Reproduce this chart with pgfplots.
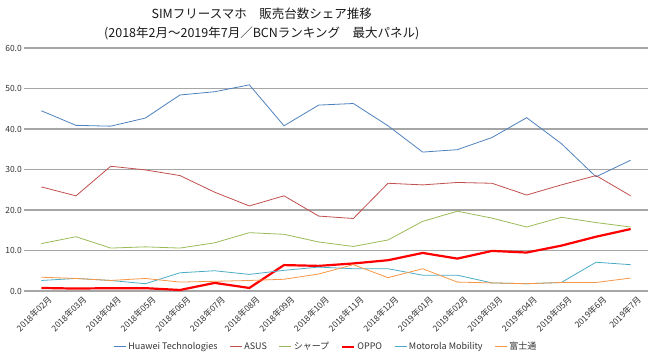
\documentclass[border=0pt]{standalone}
\usepackage{pgfplots}
\pgfplotsset{compat=1.18}
\usepackage{fontspec}
\setmainfont{Noto Sans CJK JP}
\definecolor{chuawei}{HTML}{4F81BD}
\definecolor{casus}{HTML}{C0504D}
\definecolor{csharp}{HTML}{9BBB59}
\definecolor{coppo}{HTML}{FF0000}
\definecolor{cmoto}{HTML}{4BACC6}
\definecolor{cfuji}{HTML}{F79646}
\definecolor{cgrid}{HTML}{A6A6A6}
\pgfplotstableread{
x huawei asus sharp oppo moto fuji
0 44.5 25.7 11.7 0.75 2.6 3.4
1 40.9 23.5 13.4 0.6 3.1 3.1
2 40.7 30.8 10.6 0.7 2.6 2.6
3 42.7 29.9 10.9 0.7 1.8 3.1
4 48.4 28.5 10.6 0.25 4.5 2.2
5 49.2 24.4 11.9 2.0 5.0 2.4
6 50.9 21.0 14.4 0.75 4.1 2.6
7 40.8 23.5 14.0 6.4 5.1 2.9
8 45.9 18.5 12.1 6.2 5.9 4.2
9 46.3 17.9 11.0 6.8 5.5 6.5
10 40.8 26.6 12.6 7.6 5.5 3.3
11 34.3 26.2 17.2 9.4 3.9 5.5
12 34.9 26.8 19.7 8.0 3.9 2.2
13 37.9 26.6 18.0 9.9 2.0 2.0
14 42.8 23.7 15.8 9.5 1.8 1.8
15 36.4 26.2 18.2 11.2 2.1 2.1
16 28.2 28.5 16.9 13.4 7.1 2.1
17 32.3 23.5 15.8 15.3 6.5 3.2
}\datatable
\begin{document}
\begin{tikzpicture}
\begin{axis}[
  scale only axis,
  width=624pt, height=243pt,
  xmin=-0.5, xmax=17.5,
  ymin=0, ymax=60,
  ytick={0,10,...,60},
  xtick={0,...,17},
  xticklabels={2018年02月,2018年03月,2018年04月,2018年05月,2018年06月,2018年07月,2018年08月,2018年09月,2018年10月,2018年11月,2018年12月,2019年01月,2019年02月,2019年03月,2019年04月,2019年05月,2019年6月,2019年7月},
  axis line style={draw=none},
  ymajorgrids,
  grid style={cgrid, line width=1.1pt},
  major tick length=0pt,
  yticklabel style={/pgf/number format/fixed, /pgf/number format/fixed zerofill, /pgf/number format/precision=1, /pgf/number format/assume math mode=true,
    font=\fontsize{8.5}{9}\selectfont, text=black!80, inner sep=1pt, xshift=-1pt},
  xticklabel style={font=\fontsize{8.5}{9}\selectfont, text=black!80, rotate=45, anchor=north east, inner sep=1pt, yshift=-6pt, xshift=2.5pt},
  legend columns=6,
  legend style={draw=none, fill=none, at={(rel axis cs:0.484,-0.23)}, anchor=center,
    font=\fontsize{9}{10}\selectfont, text=black!80,
    /tikz/every even column/.append style={column sep=10pt}},
  legend image code/.code={\draw[#1] (0pt,0pt) -- (12pt,0pt);},
  every axis plot/.append style={line width=0.8pt},
  clip=false,
]
\addplot[chuawei, mark=none] table[x=x,y=huawei] {\datatable};
\addlegendentry{Huawei Technologies}
\addplot[casus, mark=none] table[x=x,y=asus] {\datatable};
\addlegendentry{ASUS}
\addplot[csharp, mark=none] table[x=x,y=sharp] {\datatable};
\addlegendentry{シャープ}
\addplot[coppo, mark=none, line width=2.2pt] table[x=x,y=oppo] {\datatable};
\addlegendentry{OPPO}
\addplot[cmoto, mark=none] table[x=x,y=moto] {\datatable};
\addlegendentry{Motorola Mobility}
\addplot[cfuji, mark=none] table[x=x,y=fuji] {\datatable};
\addlegendentry{富士通}
\node[align=center, font=\fontsize{12.5}{19}\selectfont, text=black!90] at (rel axis cs:0.381,1.1) {SIMフリースマホ　販売台数シェア推移\\(2018年2月～2019年7月／BCNランキング　最大パネル)};
\end{axis}
\path (current axis.south west) ++(-24pt,-65pt) coordinate (bbA);
\path (current axis.north east) ++(2pt,48pt) coordinate (bbB);
\path (bbA) rectangle (bbB);
\end{tikzpicture}
\end{document}
